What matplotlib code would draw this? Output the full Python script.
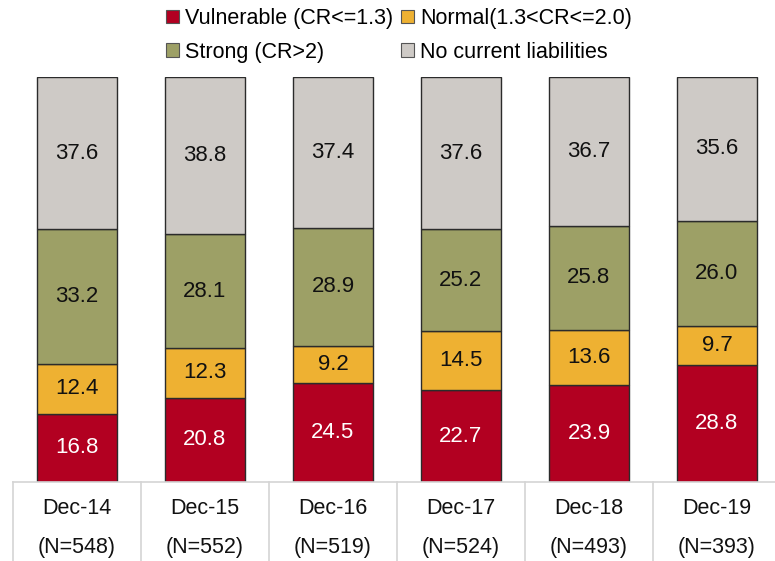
import matplotlib
matplotlib.use("Agg")
import matplotlib.pyplot as plt
import numpy as np
from matplotlib.patches import Patch

plt.rcParams['font.family'] = ['Liberation Sans', 'DejaVu Sans']

# data
categories = ["Dec-14", "Dec-15", "Dec-16", "Dec-17", "Dec-18", "Dec-19"]
sample_sizes = ["(N=548)", "(N=552)", "(N=519)", "(N=524)", "(N=493)", "(N=393)"]
vulnerable = [16.8, 20.8, 24.5, 22.7, 23.9, 28.8]
normal = [12.4, 12.3, 9.2, 14.5, 13.6, 9.7]
strong = [33.2, 28.1, 28.9, 25.2, 25.8, 26.0]
no_liab = [37.6, 38.8, 37.4, 37.6, 36.7, 35.6]

series_names = ["Vulnerable (CR<=1.3)", "Normal(1.3<CR<=2.0)",
                "Strong (CR>2)", "No current liabilities"]
colors = ["#B20021", "#EEB132", "#9DA066", "#CECAC6"]
text_colors = ["white", "#111111", "#111111", "#111111"]

W, H = 775, 561
fig = plt.figure(figsize=(W / 100, H / 100), dpi=100)
left_px, right_px, top_px, bottom_px = 13, 775, 77, 482
ax = fig.add_axes([left_px / W, 1 - bottom_px / H,
                   (right_px - left_px) / W, (bottom_px - top_px) / H])

x = np.arange(len(categories))
bottom = np.zeros(len(categories))
for vals, col, tcol in zip([vulnerable, normal, strong, no_liab], colors, text_colors):
    vals = np.array(vals)
    ax.bar(x, vals, width=80 / 128, bottom=bottom, color=col,
           edgecolor="#2b2b2b", linewidth=1.0)
    for xi, b, v in zip(x, bottom, vals):
        ax.text(xi, b + v / 2, f"{v:.1f}", ha="center", va="center",
                fontsize=16, color=tcol)
    bottom += vals

ax.set_ylim(0, 100)
ax.set_xlim(-0.5, 5.5 - 6 / 128)
for s in ax.spines.values():
    s.set_visible(False)
ax.set_xticks([])
ax.set_yticks([])

# table-like category area below the bars
px_per_unit = (bottom_px - top_px) / 100
table_depth = (H - bottom_px) / px_per_unit
grid_col = "#D4D4D4"
ax.plot([-0.5, 6], [0, 0], color=grid_col, lw=1.2, clip_on=False)
for i in range(len(categories) + 1):
    ax.plot([i - 0.5, i - 0.5], [0, -table_depth], color=grid_col, lw=1.2, clip_on=False)
for xi, cat, n in zip(x, categories, sample_sizes):
    ax.text(xi, -(508 - bottom_px) / px_per_unit, cat, ha="center", va="center",
            fontsize=15.5, color="#111111", clip_on=False)
    ax.text(xi, -(548 - bottom_px) / px_per_unit, n, ha="center", va="center",
            fontsize=15.5, color="#111111", clip_on=False)

# legend filled row by row: reorder for matplotlib's column-wise fill
handles = [Patch(facecolor=c, edgecolor="#555555", linewidth=0.8) for c in colors]
order = [0, 2, 1, 3]
fig.legend([handles[i] for i in order], [series_names[i] for i in order],
           ncol=2, loc="upper left",
           bbox_to_anchor=(166 / W, 1 - 8 / H), frameon=False, fontsize=15.5,
           handlelength=0.6, handleheight=0.6, handletextpad=0.3,
           columnspacing=0.35, labelspacing=0.6, borderaxespad=0, borderpad=0)

fig.savefig("out.png", dpi=100)
